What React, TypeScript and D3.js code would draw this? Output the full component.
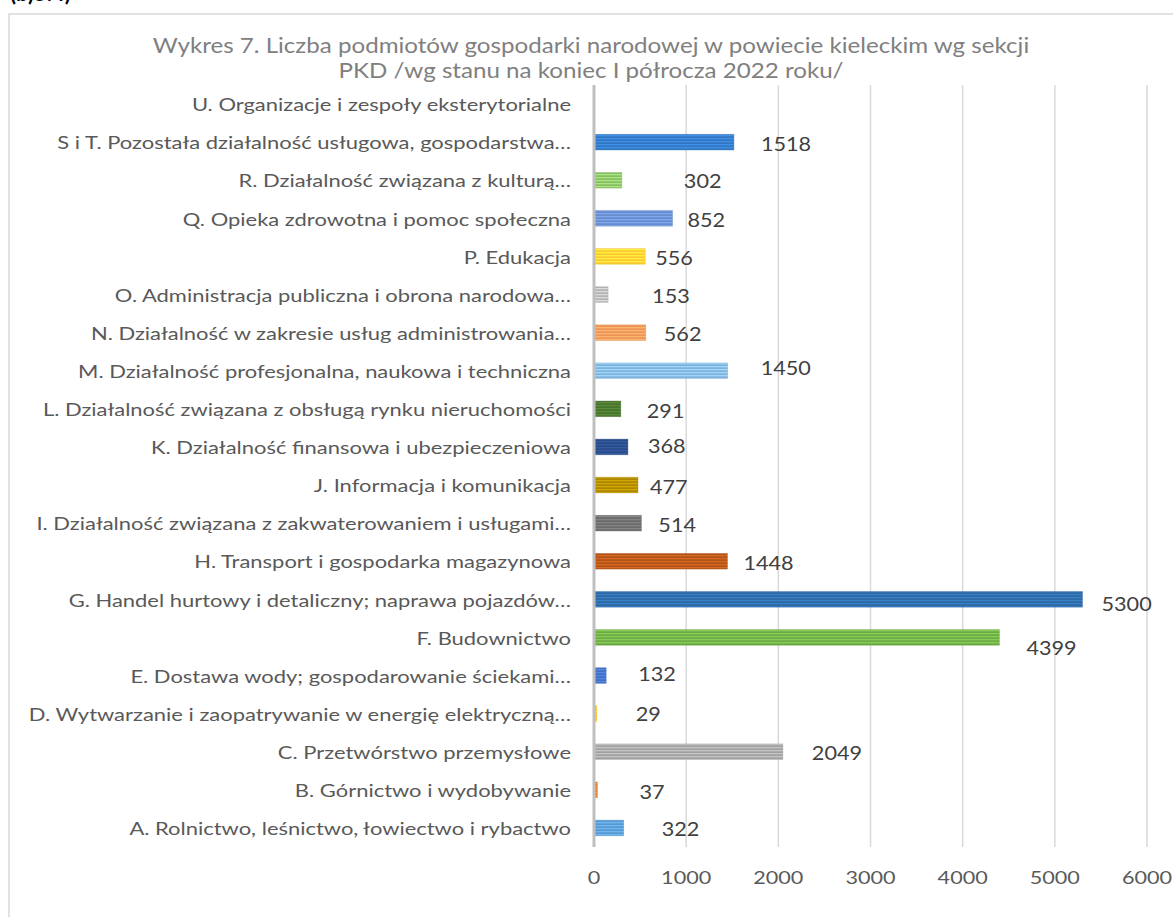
import React from "react";
import * as d3 from "d3";

const categories: string[] = [
  "A. Rolnictwo, leśnictwo, łowiectwo i rybactwo",
  "B. Górnictwo i wydobywanie",
  "C. Przetwórstwo przemysłowe",
  "D. Wytwarzanie i zaopatrywanie w energię elektryczną…",
  "E. Dostawa wody; gospodarowanie ściekami…",
  "F. Budownictwo",
  "G. Handel hurtowy i detaliczny; naprawa pojazdów…",
  "H. Transport i gospodarka magazynowa",
  "I. Działalność związana z zakwaterowaniem i usługami…",
  "J. Informacja i komunikacja",
  "K. Działalność finansowa i ubezpieczeniowa",
  "L. Działalność związana z obsługą rynku nieruchomości",
  "M. Działalność profesjonalna, naukowa i techniczna",
  "N. Działalność w zakresie usług administrowania…",
  "O. Administracja publiczna i obrona narodowa…",
  "P. Edukacja",
  "Q. Opieka zdrowotna i pomoc społeczna",
  "R. Działalność związana z kulturą…",
  "S i T. Pozostała działalność usługowa, gospodarstwa…",
  "U. Organizacje i zespoły eksterytorialne",
];

const values: (number | null)[] = [
  322, 37, 2049, 29, 132, 4399, 5300, 1448, 514, 477, 368, 291, 1450, 562, 153, 556, 852, 302, 1518, null,
];

const barColors: string[] = [
  "#5B9BD5", "#ED7D31", "#A5A5A5", "#FFC000", "#4472C4", "#70AD47",
  "#2E6AA6", "#B5561B", "#6E6E6E", "#B08A00", "#2B4C8A", "#4A7530",
  "#84B4E2", "#F1975A", "#B7B7B7", "#FFCD33", "#698ED0", "#8CC168",
  "#3479C4", "#F4B183",
];

// manual data-label nudges (labels were dragged in the original): [dx from bar end, dy from bar centre]
const labelNudges: [number, number][] = [
  [38, 1], [42, 2], [29, 1], [39, 0], [32, -1.5], [27, 10], [19, 4], [16, 1], [17, 1.5], [12, 2],
  [20, -1], [26, 2], [33, -3], [18, 1], [44, 1.5], [10, 1], [15, 1.5], [62, 0], [27, 1], [0, 0],
];

const xTicks: number[] = [0, 1000, 2000, 3000, 4000, 5000, 6000];

const titleLines: string[] = [
  "Wykres 7. Liczba podmiotów gospodarki narodowej w powiecie kieleckim wg sekcji",
  "PKD /wg stanu na koniec I półrocza 2022 roku/",
];

const FONT = "Lato, 'Open Sans', sans-serif";

type STextProps = {
  x: number;
  y: number;
  sx: number;
  size: number;
  fill: string;
  anchor?: "start" | "middle" | "end";
  weight?: string;
  children: React.ReactNode;
};

function SText({ x, y, sx, size, fill, anchor = "start", weight, children }: STextProps) {
  return (
    <text
      transform={`translate(${x},${y}) scale(${sx},1)`}
      textAnchor={anchor}
      dominantBaseline="central"
      fontSize={size}
      fontWeight={weight}
      fill={fill}
    >
      {children}
    </text>
  );
}

export default function App() {
  const W = 1173;
  const H = 917;
  const plot = { left: 594, right: 1147, top: 85, bottom: 847 };

  const x = d3.scaleLinear().domain([0, 6000]).range([plot.left, plot.right]);
  const y = d3
    .scaleBand<string>()
    .domain([...categories].reverse())
    .range([plot.top, plot.bottom])
    .paddingInner(0.59)
    .paddingOuter(0.295);

  const lighten = (c: string, k: number) => d3.color(c)!.brighter(k).formatHex();
  const darken = (c: string, k: number) => d3.color(c)!.darker(k).formatHex();

  return (
    <svg
      width={W}
      height={H}
      style={{ position: "absolute", left: 0, top: 0, background: "#fff" }}
      fontFamily={FONT}
    >
      <defs>
        {barColors.map((c, i) => (
          <pattern
            key={i}
            id={`stripe${i}`}
            patternUnits="userSpaceOnUse"
            width={8}
            height={3}
          >
            <rect width={8} height={3} fill={c} />
            <rect y={0} width={8} height={1.2} fill={lighten(c, 0.7)} opacity={0.7} />
            <rect y={2.2} width={8} height={0.8} fill={darken(c, 0.2)} opacity={0.45} />
          </pattern>
        ))}
      </defs>

      {/* clipped header text at the very top */}
      <text x={10} y={1} fontSize={22} fontWeight="bold" fill="#000">
        (b)5.4)
      </text>

      {/* chart frame */}
      <rect x={9} y={14} width={W} height={H} fill="#fff" stroke="#D9D9D9" strokeWidth={1.5} />

      {/* title */}
      {titleLines.map((t, i) => (
        <SText key={i} x={591} y={45 + i * 25} sx={1.15} size={21} fill="#808080" anchor="middle">
          {t}
        </SText>
      ))}

      {/* gridlines */}
      {xTicks.slice(1).map((t) => (
        <line
          key={t}
          x1={x(t)}
          x2={x(t)}
          y1={plot.top}
          y2={plot.bottom}
          stroke="#D9D9D9"
          strokeWidth={1.5}
        />
      ))}

      {/* bars */}
      {categories.map((c, i) => {
        const v = values[i];
        if (v == null) return null;
        const y0 = y(c)!;
        const bh = y.bandwidth();
        return (
          <g key={c}>
            <rect x={x(0)} y={y0} width={x(v) - x(0)} height={bh} fill={`url(#stripe${i})`} />
            <rect
              x={x(0)}
              y={y0}
              width={x(v) - x(0)}
              height={bh}
              fill="none"
              stroke={darken(barColors[i], 0.3)}
              strokeOpacity={0.45}
              strokeWidth={0.8}
            />
          </g>
        );
      })}

      {/* category axis line */}
      <line x1={x(0)} x2={x(0)} y1={plot.top} y2={plot.bottom} stroke="#BFBFBF" strokeWidth={3} />

      {/* category labels */}
      {categories.map((c) => (
        <SText key={c} x={571} y={y(c)! + y.bandwidth() / 2} sx={1.22} size={18} fill="#595959" anchor="end">
          {c}
        </SText>
      ))}

      {/* data labels */}
      {categories.map((c, i) => {
        const v = values[i];
        if (v == null) return null;
        const [dx, dy] = labelNudges[i];
        return (
          <SText key={c} x={x(v) + dx} y={y(c)! + y.bandwidth() / 2 + dy} sx={1.17} size={18.5} fill="#404040">
            {v}
          </SText>
        );
      })}

      {/* x tick labels */}
      {xTicks.map((t) => (
        <SText key={t} x={x(t)} y={877} sx={1.2} size={18} fill="#595959" anchor="middle">
          {t}
        </SText>
      ))}
    </svg>
  );
}
